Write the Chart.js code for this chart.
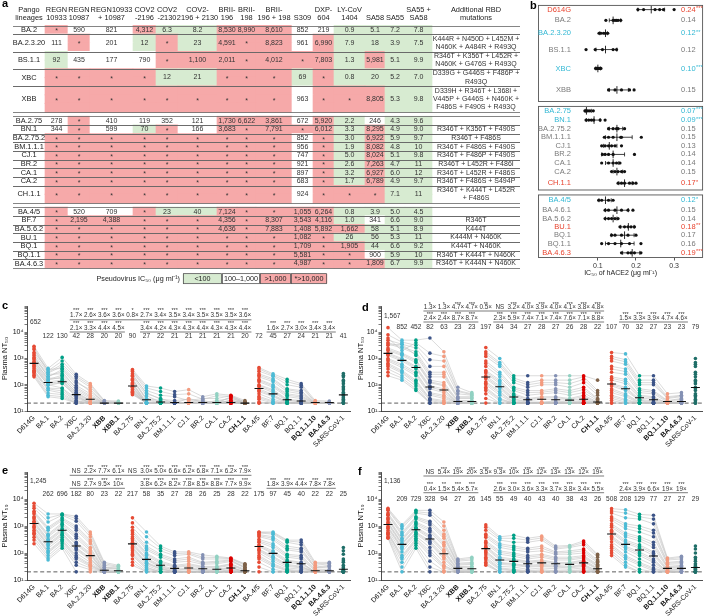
<!DOCTYPE html>
<html>
<head>
<meta charset="utf-8">
<script src="https://cdn.jsdelivr.net/npm/chart.js@4.4.1/dist/chart.umd.min.js"></script>
<style>
  html, body { margin:0; padding:0; background:#fff; }
  body { position:relative; width:708px; height:616px; overflow:hidden; font-family:"Liberation Sans", Arial, sans-serif; }
  canvas { position:absolute; }
  .pl { position:absolute; font-weight:bold; font-size:11px; line-height:11px; color:#000; }
</style>
</head>
<body>
<canvas id="ca" width="524" height="292" style="left:0;top:0"></canvas>
<canvas id="cb" width="183" height="278" style="left:525px;top:0"></canvas>
<canvas id="cc" width="356" height="166" style="left:0;top:296px"></canvas>
<canvas id="cd" width="352" height="166" style="left:356px;top:296px"></canvas>
<canvas id="ce" width="356" height="154" style="left:0;top:462px"></canvas>
<canvas id="cf" width="352" height="154" style="left:356px;top:462px"></canvas>
<div class="pl" style="left:2px;top:-2px">a</div>
<div class="pl" style="left:530px;top:0px">b</div>
<div class="pl" style="left:2px;top:300px">c</div>
<div class="pl" style="left:362px;top:302px">d</div>
<div class="pl" style="left:2px;top:465px">e</div>
<div class="pl" style="left:358px;top:466px">f</div>
<script>
// ======================= DATA =======================
// ---- panel a : pseudovirus IC50 (ng/ml) ----
const lineages = ['BA.2','BA.2.3.20','BS.1.1','XBC','XBB','BA.2.75','BN.1','BA.2.75.2','BM.1.1.1','CJ.1','BR.2','CA.1','CA.2','CH.1.1','BA.4/5','BF.7','BA.5.6.2','BU.1','BQ.1','BQ.1.1','BA.4.6.3'];
const lineageGroup = [0,0,0,0,0,1,1,1,1,1,1,1,1,1,2,2,2,2,2,2,2];
const antibodyHeaders = [['REGN','10933'],['REGN','10987'],['REGN10933','+ 10987'],['COV2','-2196'],['COV2','-2130'],['COV2-','2196 + 2130'],['BRII-','196'],['BRII-','198'],['BRII-','196 + 198'],['','S309'],['DXP-','604'],['LY-CoV','1404'],['','SA58'],['','SA55'],['SA55 +','SA58']];
const ic50 = [
  ['*','590','821','4,312','6.3','8.2','8,530','8,990','8,610','852','219','0.9','5.1','7.2','7.8'],
  ['111','*','201','12','*','23','4,591','*','8,823','961','6,990','7.9','18','3.9','7.5'],
  ['92','435','177','790','*','1,100','2,011','*','4,012','*','7,803','1.3','5,981','5.1','9.9'],
  ['*','*','*','*','12','21','*','*','*','69','*','0.8','20','5.2','7.0'],
  ['*','*','*','*','*','*','*','*','*','963','*','*','8,805','5.3','9.8'],
  ['278','*','410','119','352','121','1,730','6,622','3,861','672','5,920','2.2','246','4.3','9.6'],
  ['344','*','599','70','*','166','3,683','*','7,791','*','6,012','3.3','8,295','4.9','9.0'],
  ['*','*','*','*','*','*','*','*','*','852','*','3.0','6,922','5.9','9.7'],
  ['*','*','*','*','*','*','*','*','*','956','*','1.9','8,082','4.8','10'],
  ['*','*','*','*','*','*','*','*','*','747','*','5.0','8,024','5.1','9.8'],
  ['*','*','*','*','*','*','*','*','*','921','*','2.6','7,263','4.7','11'],
  ['*','*','*','*','*','*','*','*','*','897','*','3.2','6,927','6.0','12'],
  ['*','*','*','*','*','*','*','*','*','683','*','1.7','6,789','4.9','9.7'],
  ['*','*','*','*','*','*','*','*','*','924','*','*','*','7.1','11'],
  ['*','520','709','*','23','40','7,124','*','*','1,055','6,264','0.8','3.9','5.0','4.5'],
  ['*','2,195','4,388','*','*','*','4,356','*','8,307','3,543','4,116','1.0','341','6.6','9.0'],
  ['*','*','*','*','*','*','4,636','*','7,883','1,408','5,892','1,662','58','5.1','8.9'],
  ['*','*','*','*','*','*','*','*','*','1,082','*','26','56','5.3','11'],
  ['*','*','*','*','*','*','*','*','*','1,709','*','1,905','44','6.6','9.2'],
  ['*','*','*','*','*','*','*','*','*','5,581','*','*','900','5.9','10'],
  ['*','*','*','*','*','*','*','*','*','4,987','*','*','1,809','6.7','9.9']
];
const mutations = ['',
  'K444R + N450D + L452M +\nN460K + A484R + R493Q',
  'R346T + K356T + L452R +\nN460K + G476S + R493Q',
  'D339G + G446S + F486P +\nR493Q',
  'D339H + R346T + L368I +\nV445P + G446S + N460K +\nF486S + F490S + R493Q',
  '', 'R346T + K356T + F490S', 'R346T + F486S', 'R346T + F486S + F490S', 'R346T + F486P + F490S',
  'R346T + L452R + F486I', 'R346T + L452R + F486S', 'R346T + F486S + S494P', 'R346T + K444T + L452R\n+ F486S',
  '', 'R346T', 'K444T', 'K444M + N460K', 'K444T + N460K', 'R346T + K444T + N460K', 'R346T + K444N + N460K'];
const legendBins = ['<100','100–1,000','>1,000','*>10,000'];
const legendBinClass = ['lo','mid','hi','hi'];

// ---- panel b : IC50 of hACE2 ----
const bRows = ['D614G','BA.2','BA.2.3.20','BS.1.1','XBC','XBB','BA.2.75','BN.1','BA.2.75.2','BM.1.1.1','CJ.1','BR.2','CA.1','CA.2','CH.1.1','BA.4/5','BA.4.6.1','BA.5.6.2','BU.1','BQ.1','BQ.1.1','BA.4.6.3'];
const bGroup = [0,0,0,0,0,0,1,1,1,1,1,1,1,1,1,2,2,2,2,2,2,2];
const bDots = [
  [0.205,0.22,0.25,0.262,0.272,0.30],[0.121,0.14,0.145,0.149,0.153,0.16],[0.103,0.108,0.115,0.12,0.126],
  [0.069,0.093,0.112,0.14,0.149],[0.094,0.098,0.101,0.104,0.108],[0.128,0.145,0.162,0.183,0.195],
  [0.066,0.07,0.074,0.079,0.088],[0.069,0.076,0.083,0.089,0.106,0.119],[0.128,0.14,0.149,0.153,0.17],
  [0.117,0.128,0.14,0.16,0.162,0.214],[0.11,0.119,0.128,0.136,0.145,0.162],[0.112,0.119,0.128,0.14,0.196],
  [0.11,0.128,0.14,0.149,0.158],[0.136,0.145,0.153,0.162,0.17],[0.153,0.162,0.17,0.183,0.192,0.2],
  [0.102,0.11,0.128,0.14],[0.119,0.128,0.145,0.162,0.179,0.192],[0.119,0.128,0.136,0.145,0.153],
  [0.158,0.17,0.179,0.187,0.196],[0.136,0.145,0.162,0.179,0.2],[0.11,0.128,0.145,0.162,0.183,0.213],
  [0.162,0.179,0.187,0.196,0.213]];
const bErr = [[0.205,0.275],[0.13,0.16],[0.105,0.125],[0.095,0.15],[0.095,0.107],[0.13,0.18],
  [0.067,0.083],[0.07,0.106],[0.13,0.165],[0.12,0.19],[0.115,0.15],[0.11,0.17],[0.12,0.155],[0.14,0.165],[0.155,0.19],
  [0.103,0.135],[0.12,0.18],[0.12,0.15],[0.16,0.195],[0.135,0.195],[0.12,0.195],[0.165,0.21]];
const bMeanLabel = ['0.24','0.14','0.12','0.12','0.10','0.15','0.07','0.09','0.15','0.15','0.13','0.14','0.14','0.15','0.17','0.12','0.15','0.14','0.18','0.17','0.16','0.19'];
const bStars = ['***','','**','','***','','***','***','','','','','','','*','*','','','**','','','***'];
const bSig = ['up','','down','','down','','down','down','','','','','','','up','down','','','up','','','up'];

// ---- panels c-f : plasma NT50 ----
const ntLabels = ['D614G','BA.1','BA.2','XBC','BA.2.3.20','XBB','XBB.1','BA.2.75','BN.1','BA.2.75.2','BM.1.1.1','CJ.1','BR.2','CA.1','CA.2','CH.1.1','BA.4/5','BF.7','BQ.1','BQ.1.1','BQ.1.1.10','BA.4.6.3','SARS-CoV-1'];
const ntGroup = [0,0,0,0,0,0,0,1,1,1,1,1,1,1,1,1,2,2,2,2,2,2,3];
const ntBold = ['XBB','XBB.1','CH.1.1','BQ.1.1.10','BA.4.6.3'];
const detectionLimit = 20;

const cDonors = [
  [2900,420,1100,250,110,25,24, 380,90,75,55,65,35,45,40,25, 450,260,160,110,25,24, 270],
  [2500,340,800,210,95,24,22, 340,75,55,42,45,28,38,36,22, 400,230,130,95,22,22, 230],
  [2200,300,600,180,80,22,20, 320,60,40,35,25,30,30,38,22, 330,210,100,80,22,20, 200],
  [1700,380,420,120,65,20,22, 260,45,30,20,30,22,20,35,20, 260,170,70,60,20,22, 150],
  [1500,280,500,140,55,21,20, 230,50,28,25,28,22,22,32,20, 230,150,65,52,20,20, 130],
  [1300,200,380,95,45,20,20, 210,38,22,22,20,20,25,30,20, 200,130,55,45,20,20, 110],
  [1100,250,260,80,38,20,20, 170,30,25,20,22,25,20,26,20, 160,100,45,38,20,20, 85],
  [1000,210,320,70,34,20,20, 160,28,22,20,20,20,20,25,20, 145,90,40,34,20,20, 75],
  [900,160,230,60,30,20,20, 150,26,20,20,20,20,22,22,20, 130,80,35,30,20,20, 65],
  [760,180,170,52,26,20,20, 120,22,20,20,20,20,20,24,20, 100,65,28,25,20,20, 52],
  [700,150,200,48,24,20,20, 112,21,20,20,20,20,20,21,20, 92,58,26,23,20,20, 46],
  [650,130,150,44,22,20,20, 105,20,20,20,20,20,20,20,20, 85,50,25,22,20,20, 40],
  [560,120,110,40,20,20,20, 88,20,20,20,20,20,20,20,20, 70,42,22,20,20,20, 34],
  [520,110,140,37,20,20,20, 80,20,20,20,20,20,20,20,20, 62,38,21,20,20,20, 31],
  [480,95,120,34,20,20,20, 75,20,20,20,20,20,20,20,20, 55,35,20,20,20,20, 28],
  [420,100,75,30,20,20,20, 66,20,20,20,20,20,20,20,20, 45,28,20,20,20,20, 25],
  [360,75,70,25,20,20,20, 58,20,20,20,20,20,20,20,20, 36,24,20,20,20,20, 22],
  [330,70,58,24,20,20,20, 55,20,20,20,20,20,20,20,20, 32,22,20,20,20,20, 21],
  [300,62,48,22,20,20,20, 52,20,20,20,20,20,20,20,20, 28,20,20,20,20,20, 20],
  [260,48,42,20,20,20,20, 48,20,20,20,20,20,20,20,20, 22,20,20,20,20,20, 20],
  [230,40,35,20,20,20,20, 45,20,20,20,20,20,20,20,20, 20,20,20,20,20,20, 20],
  [200,35,30,20,20,20,20, 42,20,20,20,20,20,20,20,20, 20,20,20,20,20,20, 20]];
const cMeans = [652,122,130,42,28,20,20,90,27,22,21,21,21,21,21,20,72,45,27,24,21,21,41];
const cRow1Stars = ['','','','***','***','***','***','*','***','***','***','***','***','***','***','***','','','','','','',''];
const cRow1Fold  = ['','','','1.7×','2.6×','3.6×','3.6×','0.8×','2.7×','3.4×','3.5×','3.4×','3.5×','3.5×','3.5×','3.6×','','','','','','',''];
const cRow2Stars = ['','','','***','***','***','***','','***','***','***','***','***','***','***','***','','***','***','***','***','***',''];
const cRow2Fold  = ['','','','2.1×','3.3×','4.4×','4.5×','','3.4×','4.2×','4.3×','4.3×','4.4×','4.3×','4.3×','4.4×','','1.6×','2.7×','3.0×','3.4×','3.4×',''];

const dDonors = [
  [15000,5000,5000,6000,1800,80,50, 2600,1000,220,220,220,220,220,220,150, 1700,1500,220,220,45,50, 1000],
  [8000,4200,3200,900,800,55,42, 1500,600,150,100,120,120,110,160,50, 1000,750,120,120,32,38, 600],
  [6000,2000,4000,1600,1200,60,45, 1800,700,180,120,150,150,150,200,60, 1200,900,150,150,35,40, 700],
  [5000,3500,2500,500,500,45,40, 1200,500,120,80,100,100,80,120,40, 800,600,100,100,30,35, 500],
  [4000,2800,1800,300,300,35,35, 800,300,80,60,60,70,60,80,30, 500,400,70,60,25,30, 300],
  [3600,2500,1500,250,250,32,32, 650,250,70,50,52,60,50,65,28, 400,320,60,52,24,28, 250],
  [3200,3500,1300,200,200,30,30, 500,200,60,40,45,50,40,50,25, 300,250,50,45,22,25, 200],
  [2500,1600,900,150,120,25,25, 350,150,45,30,35,35,30,40,22, 200,160,40,35,20,22, 150],
  [2200,1450,800,130,100,24,24, 310,130,40,28,32,32,28,35,21, 175,135,36,32,20,21, 130],
  [2000,1300,700,120,90,22,22, 280,110,35,25,28,28,25,30,20, 150,110,32,28,20,20, 110],
  [1600,1000,500,90,70,20,20, 220,90,30,22,22,24,22,26,20, 110,80,28,24,20,20, 80],
  [1450,900,450,80,60,20,20, 190,80,28,21,21,22,21,24,20, 100,70,26,22,20,20, 70],
  [1300,800,400,70,50,20,20, 170,70,25,20,20,20,20,22,20, 90,60,25,20,20,20, 60],
  [1000,600,300,50,40,20,20, 130,55,22,20,20,20,20,20,20, 70,45,22,20,20,20, 45],
  [900,520,260,45,35,20,20, 115,48,21,20,20,20,20,20,20, 60,40,21,20,20,20, 40],
  [800,450,220,40,30,20,20, 100,40,20,20,20,20,20,20,20, 50,35,20,20,20,20, 35],
  [650,350,150,30,25,20,20, 80,30,20,20,20,20,20,20,20, 40,28,20,20,20,20, 28],
  [580,310,130,28,22,20,20, 70,28,20,20,20,20,20,20,20, 35,25,20,20,20,20, 25],
  [500,280,110,25,20,20,20, 60,25,20,20,20,20,20,20,20, 30,22,20,20,20,20, 22],
  [400,220,90,20,20,20,20, 45,20,20,20,20,20,20,20,20, 25,20,20,20,20,20, 20],
  [300,180,70,20,20,20,20, 30,20,20,20,20,20,20,20,20, 20,20,20,20,20,20, 20],
  [220,150,60,20,20,20,20, 20,20,20,20,20,20,20,20,20, 20,20,20,20,20,20, 20]];
const dMeans = [1567,852,452,82,63,23,23,197,84,34,27,28,27,26,28,22,107,70,32,27,23,23,79];
const dRow1Stars = ['','','','*','*','***','***','**','','***','***','***','***','***','***','***','','','','','','',''];
const dRow1Fold  = ['','','','1.3×','1.3×','4.7×','4.7×','0.5×','NS','3.2×','4.0×','3.9×','4.0×','4.1×','3.8×','4.8×','','','','','','',''];
const dRow2Stars = ['','','','***','***','***','***','','***','***','***','***','***','***','***','***','','***','***','***','***','***',''];
const dRow2Fold  = ['','','','2.4×','2.4×','8.7×','8.7×','','2.3×','5.9×','7.4×','7.1×','7.4×','7.6×','7.1×','8.8×','','1.5×','3.3×','3.9×','4.7×','4.6×',''];

const eDonors = [
  [7000,2800,2800,2300,600,45,35, 2000,600,180,110,110,85,75,65,40, 600,600,300,300,45,45, 160],
  [5500,2000,2700,1900,500,40,32, 1300,400,150,95,100,70,68,62,38, 580,550,280,250,40,42, 120],
  [4500,1400,2500,1500,400,35,30, 900,250,120,80,90,60,60,60,35, 550,500,250,200,35,40, 90],
  [3500,900,2000,1000,300,30,28, 700,180,90,60,70,45,50,55,30, 480,400,180,150,30,35, 60],
  [3100,800,1800,850,260,29,26, 600,150,80,52,60,42,45,52,29, 440,350,150,130,29,32, 52],
  [2800,700,1600,700,220,28,25, 500,130,70,45,50,38,40,48,28, 400,300,130,110,28,30, 45],
  [2200,500,1300,500,160,25,22, 400,100,50,35,40,32,32,40,25, 320,220,90,80,25,25, 35],
  [2000,450,1150,420,140,23,21, 350,90,45,32,36,30,30,38,23, 280,190,80,70,23,23, 30],
  [1800,400,1000,350,120,22,20, 300,80,40,30,32,28,28,35,22, 250,160,70,60,22,22, 28],
  [1500,320,800,250,100,20,20, 250,65,35,25,28,25,25,30,20, 200,120,55,45,20,20, 25],
  [1350,290,720,220,90,20,20, 220,60,32,23,26,23,23,29,20, 185,105,50,42,20,20, 23],
  [1200,260,650,200,80,20,20, 200,55,30,22,25,22,22,28,20, 170,95,45,38,20,20, 22],
  [1000,220,550,160,65,20,20, 170,45,28,20,22,20,20,25,20, 140,75,38,32,20,20, 20],
  [920,200,500,145,60,20,20, 155,42,26,20,21,20,20,23,20, 130,68,35,30,20,20, 20],
  [850,180,450,130,55,20,20, 140,40,25,20,20,20,20,22,20, 120,60,32,28,20,20, 20],
  [700,150,380,100,45,20,20, 120,35,22,20,20,20,20,20,20, 100,50,28,25,20,20, 20],
  [600,120,320,80,38,20,20, 100,30,20,20,20,20,20,20,20, 80,40,25,22,20,20, 20],
  [540,110,290,70,35,20,20, 90,28,20,20,20,20,20,20,20, 70,36,23,21,20,20, 20],
  [480,100,260,60,32,20,20, 80,25,20,20,20,20,20,20,20, 60,32,22,20,20,20, 20],
  [380,80,220,45,28,20,20, 60,22,20,20,20,20,20,20,20, 45,25,20,20,20,20, 20],
  [300,65,180,35,24,20,20, 45,20,20,20,20,20,20,20,20, 30,20,20,20,20,20, 20],
  [220,55,150,20,20,20,20, 35,20,20,20,20,20,20,20,20, 20,20,20,20,20,20, 20]];
const eMeans = [1245,262,696,182,80,23,22,217,58,35,27,28,26,25,28,22,175,97,45,40,22,22,25];
const eRow1Stars = ['','','','','***','***','***','','***','***','***','***','***','***','***','***','','','','','','',''];
const eRow1Fold  = ['','','','NS','2.2×','7.7×','6.1×','NS','3.0×','5.0×','6.6×','6.2×','6.8×','7.1×','6.2×','7.9×','','','','','','',''];
const eRow2Stars = ['','','','','***','***','***','','***','***','***','***','***','***','***','***','','***','***','***','***','***',''];
const eRow2Fold  = ['','','','NS','2.7×','9.5×','10×','','3.8×','6.2×','8.2×','7.8×','8.5×','8.8×','7.7×','9.9×','','1.8×','3.9×','4.4×','7.8×','7.8×',''];

const fDonors = [
  [4500,1100,3800,3800,1400,60,70, 1100,400,450,350,420,180,190,280,90, 4400,4000,2700,2500,65,75, 180],
  [4100,950,3400,3000,1000,55,62, 900,350,350,300,360,160,175,240,80, 3600,3000,2200,1800,60,68, 140],
  [3800,800,3000,2500,700,50,55, 700,300,250,250,300,140,160,200,70, 3000,2000,1800,1200,55,60, 100],
  [3000,600,2200,1500,500,42,45, 500,220,180,150,180,110,120,140,55, 2200,1200,1000,700,45,50, 70],
  [2700,520,2000,1300,420,39,41, 440,190,155,130,150,100,105,120,50, 1900,1000,800,550,42,45, 60],
  [2500,450,1800,1100,350,36,38, 380,160,130,110,120,90,90,100,45, 1600,800,600,400,38,40, 50],
  [2000,350,1400,800,250,32,32, 280,120,100,80,90,70,70,80,38, 1200,550,400,250,32,35, 40],
  [1850,310,1250,700,210,30,30, 250,105,88,70,80,62,62,72,35, 1050,470,340,200,30,32, 36],
  [1700,280,1100,600,180,28,28, 220,90,75,60,70,55,55,65,32, 900,400,280,160,28,30, 32],
  [1400,230,900,450,130,25,25, 180,70,60,50,55,45,45,55,28, 700,300,200,110,25,27, 28],
  [1280,215,820,400,115,23,23, 165,62,55,46,50,42,42,50,26, 620,260,175,95,23,25, 26],
  [1150,200,750,350,100,22,22, 150,55,50,42,45,40,38,45,25, 550,230,150,80,22,24, 25],
  [950,170,600,280,80,20,20, 120,45,40,35,38,35,32,38,22, 420,180,110,60,20,22, 22],
  [870,155,550,250,70,20,20, 110,42,38,32,35,32,30,35,21, 370,160,95,52,20,21, 21],
  [800,140,500,220,60,20,20, 100,38,35,30,32,30,28,32,20, 330,140,80,45,20,20, 20],
  [680,110,420,160,45,20,20, 85,32,30,25,28,26,25,28,20, 260,110,60,35,20,20, 20],
  [580,80,350,120,35,20,20, 70,28,25,22,24,22,22,24,20, 200,80,45,28,20,20, 20],
  [540,70,310,100,32,20,20, 62,26,23,21,22,21,21,22,20, 175,70,40,25,20,20, 20],
  [500,60,280,80,28,20,20, 55,24,22,20,20,20,20,20,20, 150,60,35,22,20,20, 20],
  [430,45,230,50,22,20,20, 45,20,20,20,20,20,20,20,20, 120,45,25,20,20,20, 20],
  [380,30,190,30,20,20,20, 40,20,20,20,20,20,20,20,20, 100,35,20,20,20,20, 20],
  [350,20,150,20,20,20,20, 35,20,20,20,20,20,20,20,20, 80,30,20,20,20,20, 20]];
const fMeans = [1136,209,729,328,94,27,26,145,55,49,40,43,40,38,43,26,508,208,129,77,27,27,29];
const fRow1Stars = ['','','','','***','***','***','***','***','***','***','***','***','***','***','***','','','','','','',''];
const fRow1Fold  = ['','','','NS','5.4×','19×','20×','3.5×','9.3×','10×','13×','12×','13×','13×','12×','19×','','','','','','',''];
const fRow2Stars = ['','','','***','**','***','***','','***','***','***','***','***','***','***','***','','***','***','***','***','***',''];
const fRow2Fold  = ['','','','0.4×','1.5×','5.4×','5.7×','','2.6×','3.0×','3.6×','3.3×','3.7×','3.8×','3.4×','5.5×','','2.4×','3.9×','6.6×','19×','19×',''];

// ======================= STYLE / LAYOUT =======================
const FONT = '"Liberation Sans", Arial, Helvetica, sans-serif';
Chart.defaults.font.family = FONT;
Chart.defaults.color = '#222';
const ic50Fill = { lo:'#d7ebd1', mid:'#ffffff', hi:'#f6a9a9' };
const ntColors = ['#E64B35','#4DBBD5','#00A087','#3C5488','#F39B7F','#8491B4','#91D1C2','#E64B35','#4DBBD5','#00A087','#3C5488','#F39B7F','#8491B4','#91D1C2','#DC0000','#7E6148','#E64B35','#4DBBD5','#00A087','#3C5488','#F39B7F','#8491B4','#1F6E68'];
const sigColor = { up:'#e8432e', down:'#33b8d4', '':'#7a7a7a' };
const LINE_GRAY = '#c2c2c2';

// ---- panel a layout ----
const A_SLOT = 8.65, A_TOP = 4, A_HEADER = 2.5, A_GAP = 0.5, A_H = 292, A_W = 524;
const rowLines = [1,2,2,2,3, 1,1,1,1,1,1,1,1,2, 1,1,1,1,1,1,1];
const colEdges = [13,45,68,90,133,156,178,217,237,256,292,313,334,365,385,405,432,520];
const legendEdges = [183,222,260,291,327];
const mutX = 476;

function ic50Class(s) {
  if (s === '*') return 'hi';
  const v = parseFloat(s.replace(/,/g, ''));
  return v < 100 ? 'lo' : (v <= 1000 ? 'mid' : 'hi');
}

const rowSpans = [];
let cursor = A_HEADER;
lineages.forEach((_, i) => {
  if (i > 0 && lineageGroup[i] !== lineageGroup[i-1]) cursor += A_GAP;
  rowSpans.push([cursor, cursor + rowLines[i]]);
  cursor += rowLines[i];
});
const tableEnd = cursor;
const legendY = tableEnd + 1.25;

const cells = [];
lineages.forEach((_, i) => {
  const [r0, r1] = rowSpans[i];
  for (let s = r0; s < r1 - 0.01; s += 1) {
    ic50[i].forEach((v, j) => cells.push({ y: s + 0.5, x: [colEdges[j+1], colEdges[j+2]], c: ic50Class(v) }));
  }
});
legendBins.forEach((b, k) => cells.push({ y: legendY, x: [legendEdges[k], legendEdges[k+1]], c: legendBinClass[k] }));

const aTextPlugin = {
  id: 'aText',
  afterDatasetsDraw(chart) {
    const { ctx } = chart; const X = chart.scales.x, Y = chart.scales.y;
    const px = v => X.getPixelForValue(v), py = v => Y.getPixelForValue(v);
    ctx.save();
    ctx.strokeStyle = '#666'; ctx.lineWidth = 0.8;
    const xl = px(colEdges[0]), xr = px(colEdges[colEdges.length-1]);
    const rule = v => { const y = Math.round(py(v)) + 0.5; ctx.beginPath(); ctx.moveTo(xl, y); ctx.lineTo(xr, y); ctx.stroke(); };
    rowSpans.forEach(([a, b]) => { rule(a); rule(b); });
    ctx.textAlign = 'center'; ctx.textBaseline = 'middle';
    ctx.fillStyle = '#222'; ctx.font = '7.4px ' + FONT;
    const heads = [['Pango','lineages']].concat(antibodyHeaders, [['Additional RBD','mutations']]);
    heads.forEach((h, j) => {
      const cx = (px(colEdges[j]) + px(colEdges[j+1])) / 2;
      h.forEach((t, k) => { if (t) ctx.fillText(t, cx, py(0.66 + k * 0.92)); });
    });
    lineages.forEach((name, i) => {
      const [a, b] = rowSpans[i]; const cy = py((a + b) / 2);
      ctx.font = '7.4px ' + FONT; ctx.fillStyle = '#222';
      ctx.fillText(name, (px(colEdges[0]) + px(colEdges[1])) / 2, cy);
      ctx.font = '7px ' + FONT; ctx.fillStyle = '#333';
      ic50[i].forEach((v, j) => {
        const cx = (px(colEdges[j+1]) + px(colEdges[j+2])) / 2;
        ctx.fillText(v, cx, v === '*' ? cy + 1.5 : cy);
      });
      const lines = mutations[i] ? mutations[i].split('\n') : [];
      lines.forEach((t, k) => ctx.fillText(t, px(mutX), cy + (k - (lines.length - 1) / 2) * 8.2));
    });
    const ly = py(legendY);
    ctx.font = '7.2px ' + FONT; ctx.fillStyle = '#222'; ctx.textAlign = 'right';
    ctx.fillText('Pseudovirus IC₅₀ (μg ml⁻¹)', px(legendEdges[0]) - 3, ly);
    ctx.textAlign = 'center'; ctx.strokeStyle = '#555'; ctx.lineWidth = 0.8;
    legendBins.forEach((t, k) => {
      const x0 = px(legendEdges[k]), x1 = px(legendEdges[k+1]);
      ctx.strokeRect(x0 + 0.5, ly - 5, x1 - x0 - 1, 10);
      ctx.fillText(t, (x0 + x1) / 2, ly);
    });
    ctx.restore();
  }
};

new Chart(document.getElementById('ca'), {
  type: 'bar',
  data: { datasets: [{
    data: cells,
    backgroundColor: c => (c.raw ? ic50Fill[c.raw.c] : '#fff'),
    borderWidth: 0,
    barThickness: A_SLOT + 0.5
  }]},
  options: {
    indexAxis: 'y', responsive: false, animation: false, devicePixelRatio: 1, events: [],
    layout: { padding: 0 },
    scales: {
      x: { type: 'linear', min: 0, max: A_W, display: false },
      y: { type: 'linear', offset: false, min: -A_TOP / A_SLOT, max: (A_H - A_TOP) / A_SLOT, reverse: true, display: false }
    },
    plugins: { legend: { display: false }, tooltip: { enabled: false } }
  },
  plugins: [aTextPlugin]
});

// ---- panel b ----
const bRowH = [1.1,1.4,1.6,2.2,2.2,2.8, 1.15,1,1,1,1,1,1,1,1.7, 1.35,0.97,0.97,0.97,0.97,0.97,1.2];
const B_GAP = 0.46;
const bSpans = [];
let bCur = 0;
bRows.forEach((_, i) => {
  if (i > 0 && bGroup[i] !== bGroup[i-1]) bCur += B_GAP;
  bSpans.push([bCur, bCur + bRowH[i]]);
  bCur += bRowH[i];
});
const bTotal = bCur;
const bY = i => (bSpans[i][0] + bSpans[i][1]) / 2;

const bDatasets = [];
bDatasets.push({ data: bRows.flatMap((_, i) => bDots[i].map(v => ({ x: v, y: bY(i) }))),
  pointRadius: 1.6, pointBackgroundColor: '#111', pointBorderWidth: 0, order: 1 });
bRows.forEach((_, i) => bDatasets.push({
  data: [{ x: bErr[i][0], y: bY(i) }, { x: bErr[i][1], y: bY(i) }], showLine: true,
  borderColor: '#111', borderWidth: 0.8, pointStyle: 'line', pointRotation: 90, pointRadius: 2,
  pointBorderWidth: 0.8, pointBorderColor: '#111', order: 2 }));
bDatasets.push({ data: bMeanLabel.map((m, i) => ({ x: parseFloat(m), y: bY(i) })),
  pointStyle: 'line', pointRotation: 90, pointRadius: 3.8, pointBorderWidth: 0.9, pointBorderColor: '#111', order: 1 });

const bTextPlugin = {
  id: 'bText',
  afterDatasetsDraw(chart) {
    const { ctx, chartArea } = chart; const Y = chart.scales.y;
    ctx.save();
    ctx.strokeStyle = '#555'; ctx.lineWidth = 0.9;
    [0, 1, 2].forEach(g => {
      const idx = bGroup.map((v, i) => v === g ? i : -1).filter(i => i >= 0);
      const t = Y.getPixelForValue(bSpans[idx[0]][0]), b = Y.getPixelForValue(bSpans[idx[idx.length-1]][1]);
      ctx.strokeRect(chartArea.left + 0.5, t + 0.5, chartArea.right - chartArea.left - 1, b - t - 1);
    });
    ctx.textBaseline = 'middle';
    bRows.forEach((name, i) => {
      const y = Y.getPixelForValue(bY(i));
      ctx.fillStyle = sigColor[bSig[i]];
      ctx.font = '7.5px ' + FONT; ctx.textAlign = 'right';
      ctx.fillText(name, chartArea.left + 33, y);
      ctx.textAlign = 'left';
      const vx = chartArea.left + 143;
      ctx.fillText(bMeanLabel[i], vx, y);
      if (bStars[i]) {
        const w = ctx.measureText(bMeanLabel[i]).width;
        ctx.font = '5.5px ' + FONT;
        ctx.fillText(bStars[i], vx + w + 0.5, y - 1);
      }
    });
    ctx.restore();
  }
};

new Chart(document.getElementById('cb'), {
  type: 'scatter',
  data: { datasets: bDatasets },
  options: {
    responsive: false, animation: false, devicePixelRatio: 1, events: [],
    layout: { padding: { top: 2, left: 13, right: 2, bottom: 0 } },
    plugins: { legend: { display: false }, tooltip: { enabled: false } },
    scales: {
      x: { type: 'linear', min: -0.057, max: 0.376,
        afterBuildTicks: s => { s.ticks = [0.1, 0.2, 0.3].map(v => ({ value: v })); },
        ticks: { font: { size: 7 }, padding: 1, color: '#333', callback: v => v.toFixed(1) },
        grid: { drawOnChartArea: false, drawTicks: true, tickLength: 2.5, color: '#555' },
        border: { display: false },
        title: { display: true, text: 'IC₅₀ of hACE2 (μg ml⁻¹)', font: { size: 7 }, color: '#222', padding: { top: 0, bottom: 1 } },
        afterFit: s => { s.height = 20; } },
      y: { type: 'linear', min: 0, max: bTotal, reverse: true, display: false }
    }
  },
  plugins: [bTextPlugin]
});

// ---- panels c-f ----
const SUP = { 1: '¹', 2: '²', 3: '³', 4: '⁴' };
function logLabel(v) {
  const l = Math.log10(v); const r = Math.round(l);
  if (Math.abs(l - r) < 1e-9 && r >= 1 && r <= 4) return '10' + SUP[r];
  return '';
}
const thresholdPlugin = {
  id: 'lod',
  beforeDatasetsDraw(chart) {
    const { ctx, chartArea: { left, right } } = chart;
    const y = chart.scales.y.getPixelForValue(detectionLimit);
    ctx.save(); ctx.setLineDash([4, 2.6]); ctx.strokeStyle = '#333'; ctx.lineWidth = 0.8;
    ctx.beginPath(); ctx.moveTo(left, y); ctx.lineTo(right, y); ctx.stroke(); ctx.restore();
  }
};
function headerPlugin(r1s, r1f, r2s, r2f, means, hdr) {
  return {
    id: 'hdr',
    afterDraw(chart) {
      const { ctx, chartArea } = chart; const X = chart.scales.x; const top = chartArea.top;
      const px = i => X.getPixelForValue(i);
      ctx.save(); ctx.fillStyle = '#333'; ctx.textAlign = 'center'; ctx.textBaseline = 'middle';
      const put = (arr, dy, size) => { ctx.font = size + 'px ' + FONT; arr.forEach((t, i) => { if (t) ctx.fillText(t, px(i), top + dy); }); };
      put(r1s, hdr.s1, 5.4); put(r1f, hdr.f1, 6.3); put(r2s, hdr.s2, 5.4); put(r2f, hdr.f2, 6.3);
      ctx.font = '6.6px ' + FONT;
      means.forEach((m, i) => {
        if (i === 0) { ctx.textAlign = 'left'; ctx.fillText(m.toLocaleString('en-US'), chartArea.left + 3, top + hdr.d0); ctx.textAlign = 'center'; }
        else ctx.fillText(m.toLocaleString('en-US'), px(i), top + hdr.m);
      });
      ctx.strokeStyle = '#444'; ctx.lineWidth = 0.7;
      const rule = (i0, i1, dy) => { ctx.beginPath(); ctx.moveTo(px(i0) - 6.5, top + dy); ctx.lineTo(px(i1) + 6.5, top + dy); ctx.stroke(); };
      const i1 = r1f.map((t, i) => t ? i : -1).filter(i => i >= 0);
      if (i1.length) rule(i1[0], i1[i1.length-1], hdr.l1);
      [0, 1, 2].forEach(g => {
        const ii = r2f.map((t, i) => (t && ntGroup[i] === g) ? i : -1).filter(i => i >= 0);
        if (ii.length) rule(ii[0], ii[ii.length-1], hdr.l2);
      });
      ctx.restore();
    }
  };
}
function buildNT(id, donors, means, r1s, r1f, r2s, r2f, hdr, axisW, axisH, padR) {
  const datasets = [];
  donors.forEach(d => datasets.push({ type: 'line', data: d, order: 3, borderColor: LINE_GRAY, borderWidth: 0.6, pointRadius: 0,
    segment: { borderColor: s => ntGroup[s.p0DataIndex] === ntGroup[s.p1DataIndex] ? LINE_GRAY : 'rgba(0,0,0,0)' } }));
  donors.forEach(d => datasets.push({ type: 'line', data: d, order: 2, showLine: false, pointRadius: 1.8,
    pointBorderWidth: 0, pointBackgroundColor: ntColors, pointBorderColor: ntColors }));
  datasets.push({ type: 'line', data: means, order: 1, showLine: false, pointStyle: 'line', pointRadius: 4.5,
    pointBorderWidth: 1.1, pointBorderColor: '#111', pointBackgroundColor: '#111' });
  return new Chart(document.getElementById(id), {
    type: 'line',
    data: { labels: ntLabels, datasets },
    options: {
      responsive: false, animation: false, devicePixelRatio: 1, events: [],
      layout: { padding: { top: 10, right: padR, left: 0, bottom: 0 } },
      plugins: { legend: { display: false }, tooltip: { enabled: false } },
      scales: {
        x: { type: 'category', offset: true, grid: { display: false, drawTicks: false },
          border: { display: true, color: '#222', width: 0.8 },
          ticks: { autoSkip: false, minRotation: 45, maxRotation: 45, padding: 3, color: '#111',
            font: c => ({ size: 7, weight: ntBold.includes(ntLabels[c.index]) ? 'bold' : 'normal' }) },
          afterFit: s => { s.height = axisH; } },
        y: { type: 'logarithmic', min: 10, max: 100000,
          afterBuildTicks: s => { const t = []; for (let e = 1; e <= 4; e++) for (let k = 1; k <= 9; k++) t.push({ value: k * Math.pow(10, e) }); t.push({ value: 100000 }); s.ticks = t; },
          grid: { display: true, drawOnChartArea: false, drawTicks: true, tickLength: 2.5, color: '#222', lineWidth: 0.6 },
          border: { display: true, color: '#222', width: 0.8 },
          ticks: { autoSkip: false, padding: 1, color: '#111', font: { size: 7 }, callback: v => logLabel(v) },
          title: { display: true, text: 'Plasma NT₅₀', font: { size: 7.5 }, padding: 0, color: '#111' },
          afterFit: s => { s.width = axisW; } }
      }
    },
    plugins: [thresholdPlugin, headerPlugin(r1s, r1f, r2s, r2f, means, hdr)]
  });
}

buildNT('cc', cDonors, cMeans, cRow1Stars, cRow1Fold, cRow2Stars, cRow2Fold,
  { s1: 5, f1: 9.7, l1: 13.8, s2: 18, f2: 22.3, l2: 26, m: 30.3, d0: 16.3 }, 27, 51, 3);
buildNT('cd', dDonors, dMeans, dRow1Stars, dRow1Fold, dRow2Stars, dRow2Fold,
  { s1: -1.5, f1: 1.5, l1: 5, s2: 8.5, f2: 12, l2: 16, m: 21.3, d0: 9.7 }, 25, 51, 3);
buildNT('ce', eDonors, eMeans, eRow1Stars, eRow1Fold, eRow2Stars, eRow2Fold,
  { s1: -4.5, f1: -1, l1: 3.3, s2: 8.5, f2: 12.3, l2: 16.3, m: 22.3, d0: 9 }, 27, 36, 3);
buildNT('cf', fDonors, fMeans, fRow1Stars, fRow1Fold, fRow2Stars, fRow2Fold,
  { s1: -2.5, f1: 0.7, l1: 4, s2: 13, f2: 17.3, l2: 20.7, m: 26.7, d0: 9 }, 25, 36, 3);
</script>
</body>
</html>
